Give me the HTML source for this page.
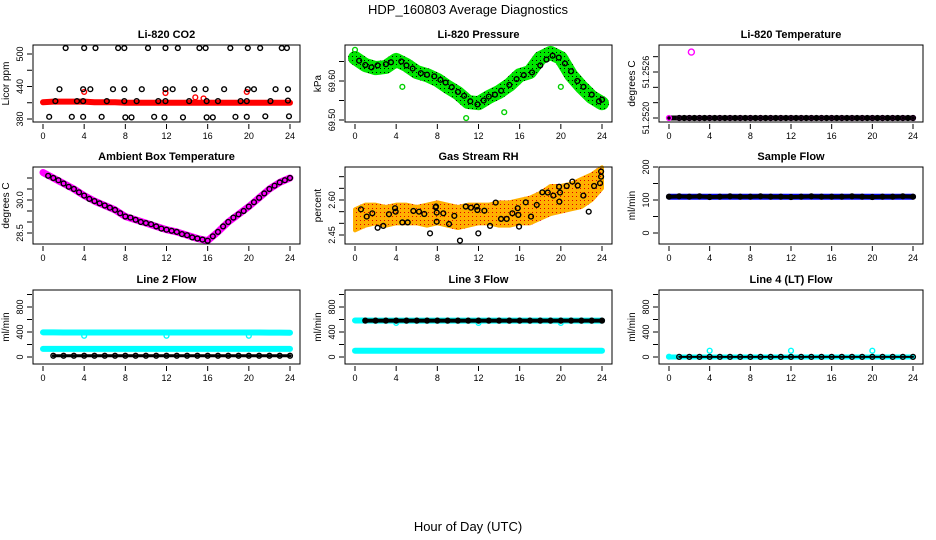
<!DOCTYPE html>
<html><head><meta charset="utf-8"><style>
body{margin:0;background:#fff}
svg{display:block;font-family:"Liberation Sans",sans-serif}
</style></head><body>
<svg id="c" width="936" height="540" viewBox="0 0 936 540">
<defs>
<pattern id="gp" width="4" height="4" patternUnits="userSpaceOnUse"><rect width="4" height="4" fill="#00e600"/><rect width="1" height="1" fill="#000"/></pattern>
<pattern id="op" width="4" height="4" patternUnits="userSpaceOnUse"><rect width="4" height="4" fill="#ffb000"/><rect width="1" height="1" fill="#e00000"/></pattern>
</defs>
<text x="468" y="14" text-anchor="middle" font-size="13">HDP_160803  Average Diagnostics</text>
<text x="468" y="531" text-anchor="middle" font-size="13">Hour of Day (UTC)</text>
</svg>
<script>
const HOURS=[0,1,2,3,4,5,6,7,8,9,10,11,12,13,14,15,16,17,18,19,20,21,22,23,24];
const HALF=[0.5,1,1.5,2,2.5,3,3.5,4,4.5,5,5.5,6,6.5,7,7.5,8,8.5,9,9.5,10,10.5,11,11.5,12,12.5,13,13.5,14,14.5,15,15.5,16,16.5,17,17.5,18,18.5,19,19.5,20,20.5,21,21.5,22,22.5,23,23.5,24];
const X_TICKS=[0,4,8,12,16,20,24];
// CO2
const co2Red=[411,412,412,412,412,411,411,411,410,410,410,410,410,410,410,410,410,410,410,410,410,410,410,410,410];
const co2HiT=[2.2,4.0,5.1,7.3,7.9,10.2,11.9,13.1,15.2,15.8,18.2,19.9,21.1,23.2,23.7];
const co2HiV=[511,511,511,511,511,511,511,511,511,511,511,511,511,511,511];
const co2MidT=[1.6,3.9,4.6,6.8,7.9,9.6,11.9,12.6,14.7,15.8,17.6,19.9,20.5,22.6,23.8];
const co2MidV=[435,435,435,435,435,435,435,435,435,435,435,435,435,435,435];
const co2LowT=[1.2,3.3,3.9,6.2,7.9,9.1,11.2,11.9,14.2,15.9,17.0,19.2,19.8,22.1,23.8];
const co2LowV=[413,413,413,413,413,413,413,413,413,413,413,413,413,413,414];
const co2BotT=[0.6,2.8,3.9,5.7,8.0,8.6,10.8,11.8,13.6,15.9,16.5,18.7,19.8,21.6,23.9];
const co2BotV=[384,384,384,384,383,383,384,383,383,383,383,384,384,385,385];
const co2RedOutT=[4.0,11.9,14.8,15.6,19.8];
const co2RedOutV=[430,428,420,418,430];
// Pressure
const presGreen=[69.659,69.641,69.633,69.636,69.654,69.641,69.623,69.615,69.603,69.585,69.569,69.546,69.543,69.559,69.572,69.59,69.615,69.623,69.659,69.672,69.659,69.615,69.585,69.559,69.543];
const presBlkT=[0.4,1,1.6,2.2,3,3.5,4.5,5,5.6,6.4,7,7.7,8.3,8.8,9.4,10,10.6,11.2,11.9,12.5,13,13.6,14.2,15,15.7,16.4,17.2,18,18.6,19.2,19.8,20.4,21,21.6,22.2,23,23.7,24];
const presBlkV=[69.652,69.641,69.635,69.640,69.643,69.648,69.650,69.640,69.632,69.620,69.616,69.612,69.603,69.596,69.584,69.572,69.562,69.548,69.540,69.550,69.560,69.565,69.575,69.590,69.605,69.615,69.622,69.640,69.655,69.665,69.660,69.645,69.625,69.600,69.585,69.565,69.548,69.552];
const presOutT=[0,4.6,10.8,14.5,20];
const presOutV=[69.68,69.585,69.505,69.52,69.585];
// Li-820 temperature
const tmpMag=[51.252,51.252,51.252,51.252,51.252,51.252,51.252,51.252,51.252,51.252,51.252,51.252,51.252,51.252,51.252,51.252,51.252,51.252,51.252,51.252,51.252,51.252,51.252,51.252,51.252];
const tmpOutT=[2.2];
const tmpOutV=[51.25286];
// Ambient
const ambMag=[31.25,31.0,30.75,30.5,30.2,29.95,29.75,29.55,29.25,29.1,28.95,28.8,28.65,28.55,28.4,28.25,28.15,28.55,29.0,29.35,29.7,30.1,30.5,30.8,31.0];
const ambBlk=[31.1,31.0,30.9,30.75,30.6,30.5,30.35,30.2,30.05,29.95,29.85,29.75,29.65,29.55,29.4,29.25,29.2,29.1,29.0,28.95,28.9,28.8,28.7,28.65,28.6,28.55,28.45,28.4,28.3,28.25,28.2,28.15,28.35,28.55,28.8,29.0,29.2,29.35,29.5,29.7,29.9,30.1,30.3,30.5,30.65,30.8,30.9,31.0];
// RH
const rhUpper=[2.56,2.58,2.58,2.57,2.58,2.58,2.57,2.58,2.59,2.58,2.57,2.58,2.58,2.58,2.59,2.59,2.60,2.61,2.63,2.66,2.66,2.67,2.69,2.71,2.74];
const rhLower=[2.47,2.49,2.50,2.49,2.50,2.50,2.50,2.49,2.50,2.49,2.48,2.49,2.50,2.50,2.49,2.49,2.50,2.50,2.52,2.54,2.55,2.56,2.57,2.60,2.65];
const rhBlkT=[0.58,1.14,1.68,2.2,2.75,3.3,3.89,3.95,4.6,5.12,5.67,6.22,6.73,7.29,7.84,7.87,7.94,7.94,8.58,9.14,9.65,10.2,10.76,11.27,11.83,11.89,11.98,12.57,13.12,13.67,14.19,14.74,15.29,15.81,15.87,15.94,16.59,17.1,17.66,18.2,18.73,19.27,19.83,19.86,19.92,20.57,21.12,21.64,22.19,22.71,23.23,23.81,23.91,23.91];
const rhBlkV=[2.560,2.529,2.543,2.481,2.489,2.539,2.565,2.550,2.504,2.504,2.553,2.550,2.540,2.457,2.569,2.572,2.546,2.507,2.543,2.497,2.532,2.426,2.572,2.567,2.572,2.557,2.457,2.554,2.489,2.589,2.519,2.519,2.543,2.565,2.536,2.486,2.590,2.529,2.579,2.633,2.632,2.619,2.657,2.593,2.632,2.660,2.679,2.662,2.619,2.550,2.660,2.672,2.700,2.722];
// Sample flow
const sfBlue=[110,110,110,110,110,110,110,110,110,110,110,110,110,110,110,110,110,110,110,110,110,110,110,110,110];
const sfBlk=[110,111,110,111,109,110,111,110,110,111,110,110,109,110,111,110,110,110,111,110,109,110,110,111,110];
// Line 2
const l2CyanHi=[395,395,392,392,392,392,392,392,392,392,392,392,392,392,392,392,392,392,392,392,392,392,390,390,388];
const l2CyanLo=[130,130,130,130,130,130,130,130,130,130,130,130,130,130,130,130,130,130,130,130,130,130,130,130,130];
const l2OutT=[4,12,20];
const l2OutV=[340,340,340];
const l2Blk=[20,20,20,20,20,20,20,20,20,20,20,20,20,20,20,20,20,20,20,20,20,20,20,20,20];
// Line 3
const l3CyanHi=[585,585,582,582,582,582,582,582,582,582,582,582,582,582,582,582,582,582,582,582,582,582,582,582,582];
const l3CyanLo=[100,100,100,100,100,100,100,100,100,100,100,100,100,100,100,100,100,100,100,100,100,100,100,100,100];
const l3OutT=[4,12,20];
const l3OutV=[545,545,545];
const l3Blk=[582,582,582,582,582,582,582,582,582,582,582,582,582,582,582,582,582,582,582,582,582,582,582,582,582];
// Line 4
const l4Cyan=[0,0,0,0,0,0,0,0,0,0,0,0,0,0,0,0,0,0,0,0,0,0,0,0,0];
const l4Blk=[2,2,2,2,2,2,2,2,2,2,2,2,2,2,2,2,2,2,2,2,2,2,2,2,2];
const l4OutT=[0,4,12,20];
const l4OutV=[5,100,100,100];

const NS="http://www.w3.org/2000/svg";
const svg=document.getElementById('c');
function mk(tag,attrs,parent){const e=document.createElementNS(NS,tag);for(const k in attrs)e.setAttribute(k,attrs[k]);(parent||svg).appendChild(e);return e;}

function panel(cfg){
  const g=mk('g',{});
  
  
  const [L,T,R,B]=cfg.box;
  const x0=L+10,x1=R-10;
  const sx=h=>x0+h*(x1-x0)/24;
  const [v0,y0,v1,y1]=cfg.ymap;
  const sy=v=>y0+(v-v0)*(y1-y0)/(v1-v0);
  const plot=mk('g',{},g);
  
  
  cfg.draw(plot,sx,sy);
  const box=mk('rect',{x:L,y:T,width:R-L,height:B-T,fill:'none',stroke:'#000','stroke-width':1},g);
  
  
  const t=mk('text',{x:(L+R)/2,y:T-7,'text-anchor':'middle','font-size':11,'font-weight':'bold'},g);
  
  
  t.textContent=cfg.title;
  X_TICKS.forEach(h=>{
    const l=mk('line',{x1:sx(h),x2:sx(h),y1:B+2,y2:B+7,stroke:'#000'},g);
    
    
    const tx=mk('text',{x:sx(h),y:B+17,'text-anchor':'middle','font-size':9},g);
    
    
    tx.textContent=h;
  });
  cfg.yticks.forEach(v=>{
    const l=mk('line',{x1:L-6,x2:L-1,y1:sy(v),y2:sy(v),stroke:'#000'},g);
    
    
  });
  cfg.ylabels.forEach(([v,s])=>{
    const y=sy(v),x=L-10;
    const tx=mk('text',{x:x,y:y,'text-anchor':'middle','font-size':9,transform:`rotate(-90 ${x} ${y})`},g);
    
    
    tx.textContent=s;
  });
  const yl=L-24,ym=(T+B)/2;
  const yt=mk('text',{x:yl,y:ym,'text-anchor':'middle','font-size':10,transform:`rotate(-90 ${yl} ${ym})`},g);
  
  
  yt.textContent=cfg.ytitle;
}
function band(p,sx,sy,ts,vs,color,w,name){
  const e=mk('polyline',{points:ts.map((t,i)=>sx(t)+','+sy(vs[i])).join(' '),fill:'none',stroke:color,'stroke-width':w,'stroke-linejoin':'round','stroke-linecap':'round'},p);
  
  
}
function pts(p,sx,sy,ts,vs,color,name,r){
  const g=mk('g',{},p);
  
  
  ts.forEach((t,i)=>{mk('circle',{cx:sx(t),cy:sy(vs[i]),r:r||2.4,fill:'none',stroke:color,'stroke-width':1.4},g);});
}
function area(p,sx,sy,ts,lo,hi,fill,name){
  const up=ts.map((t,i)=>sx(t)+','+sy(hi[i]));
  const dn=ts.map((t,i)=>sx(t)+','+sy(lo[i])).reverse();
  const e=mk('polygon',{points:up.concat(dn).join(' '),fill:fill,stroke:fill,'stroke-width':4,'stroke-linejoin':'round'},p);
  
  
}
const flowTicks=[0,200,400,600,800,1000],flowLabels=[[0,'0'],[400,'400'],[800,'800']];

panel({name:'co2-panel',title:'Li-820 CO2',ytitle:'Licor ppm',box:[33,45,300,122],ymap:[380,119,500,54],
 yticks:[380,410,440,470,500],ylabels:[[380,'380'],[440,'440'],[500,'500']],
 draw:(p,sx,sy)=>{band(p,sx,sy,HOURS,co2Red,'#f00',6,'co2-red-series');pts(p,sx,sy,co2RedOutT,co2RedOutV,'#f00','co2-red-outliers');
  pts(p,sx,sy,co2HiT,co2HiV,'#000','co2-high-points');pts(p,sx,sy,co2MidT,co2MidV,'#000','co2-mid-points');
  pts(p,sx,sy,co2LowT,co2LowV,'#000','co2-low-points');pts(p,sx,sy,co2BotT,co2BotV,'#000','co2-bottom-points');}});
panel({name:'pressure-panel',title:'Li-820 Pressure',ytitle:'kPa',box:[345,45,612,122],ymap:[69.5,120,69.6,81],
 yticks:[69.5,69.55,69.6,69.65],ylabels:[[69.5,'69.50'],[69.6,'69.60']],
 draw:(p,sx,sy)=>{band(p,sx,sy,HOURS,presGreen,'url(#gp)',14,'pressure-green-series');pts(p,sx,sy,presOutT,presOutV,'#00d000','pressure-green-outliers');
  pts(p,sx,sy,presBlkT,presBlkV,'#000','pressure-black-points');}});
panel({name:'li820-temp-panel',title:'Li-820 Temperature',ytitle:'degrees C',box:[659,45,923,122],ymap:[51.252,118,51.2526,72],
 yticks:[51.252,51.2522,51.2524,51.2526,51.2528],ylabels:[[51.252,'51.2520'],[51.2526,'51.2526']],
 draw:(p,sx,sy)=>{band(p,sx,sy,HOURS,tmpMag,'#000',5,'temp-black-band');pts(p,sx,sy,HOURS,tmpMag,'#f0f','temp-magenta-points');
  pts(p,sx,sy,HALF.slice(1),tmpMag.concat(tmpMag).slice(0,47),'#000','temp-black-points');pts(p,sx,sy,tmpOutT,tmpOutV,'#f0f','temp-outlier',3);}});
panel({name:'ambient-panel',title:'Ambient Box Temperature',ytitle:'degrees C',box:[33,167,300,244],ymap:[28.5,233,30,200],
 yticks:[28.5,29,29.5,30,30.5,31],ylabels:[[28.5,'28.5'],[30,'30.0']],
 draw:(p,sx,sy)=>{band(p,sx,sy,HOURS,ambMag,'#f0f',7,'ambient-magenta-series');pts(p,sx,sy,HALF,ambBlk,'#000','ambient-black-points');}});
panel({name:'rh-panel',title:'Gas Stream RH',ytitle:'percent',box:[345,167,612,244],ymap:[2.45,235,2.6,200],
 yticks:[2.45,2.5,2.55,2.6,2.65,2.7],ylabels:[[2.45,'2.45'],[2.6,'2.60']],
 draw:(p,sx,sy)=>{area(p,sx,sy,HOURS,rhLower,rhUpper,'url(#op)','rh-orange-cloud');pts(p,sx,sy,rhBlkT,rhBlkV,'#000','rh-black-points');}});
panel({name:'sample-flow-panel',title:'Sample Flow',ytitle:'ml/min',box:[659,167,923,244],ymap:[0,233,200,167],
 yticks:[0,50,100,150,200],ylabels:[[0,'0'],[100,'100'],[200,'200']],
 draw:(p,sx,sy)=>{band(p,sx,sy,HOURS,sfBlue,'#00f',6,'sample-flow-blue');band(p,sx,sy,HOURS,sfBlk,'#000',4,'sample-flow-black-band');pts(p,sx,sy,HOURS,sfBlk,'#000','sample-flow-points');}});
panel({name:'line2-flow-panel',title:'Line 2 Flow',ytitle:'ml/min',box:[33,290,300,364],ymap:[0,357,800,307],
 yticks:flowTicks,ylabels:flowLabels,
 draw:(p,sx,sy)=>{band(p,sx,sy,HOURS,l2CyanHi,'#0ff',6,'line2-cyan-high');band(p,sx,sy,HOURS,l2CyanLo,'#0ff',6,'line2-cyan-low');pts(p,sx,sy,l2OutT,l2OutV,'#0ff','line2-cyan-outliers');
  band(p,sx,sy,HOURS.slice(1),l2Blk.slice(1),'#000',3,'line2-black-band');pts(p,sx,sy,HOURS.slice(1),l2Blk.slice(1),'#000','line2-black-points');}});
panel({name:'line3-flow-panel',title:'Line 3 Flow',ytitle:'ml/min',box:[345,290,612,364],ymap:[0,357,800,307],
 yticks:flowTicks,ylabels:flowLabels,
 draw:(p,sx,sy)=>{band(p,sx,sy,HOURS,l3CyanHi,'#0ff',6,'line3-cyan-high');band(p,sx,sy,HOURS,l3CyanLo,'#0ff',6,'line3-cyan-low');pts(p,sx,sy,l3OutT,l3OutV,'#0ff','line3-cyan-outliers');
  band(p,sx,sy,HOURS.slice(1),l3Blk.slice(1),'#000',4,'line3-black-band');pts(p,sx,sy,HOURS.slice(1),l3Blk.slice(1),'#000','line3-black-points');}});
panel({name:'line4-flow-panel',title:'Line 4 (LT) Flow',ytitle:'ml/min',box:[659,290,923,364],ymap:[0,357,800,307],
 yticks:flowTicks,ylabels:flowLabels,
 draw:(p,sx,sy)=>{band(p,sx,sy,HOURS,l4Cyan,'#0ff',5,'line4-cyan');pts(p,sx,sy,l4OutT,l4OutV,'#0ff','line4-cyan-spikes');
  band(p,sx,sy,HOURS.slice(1),l4Blk.slice(1),'#000',2,'line4-black-band');pts(p,sx,sy,HOURS.slice(1),l4Blk.slice(1),'#000','line4-black-points');}});
</script>
</body></html>
